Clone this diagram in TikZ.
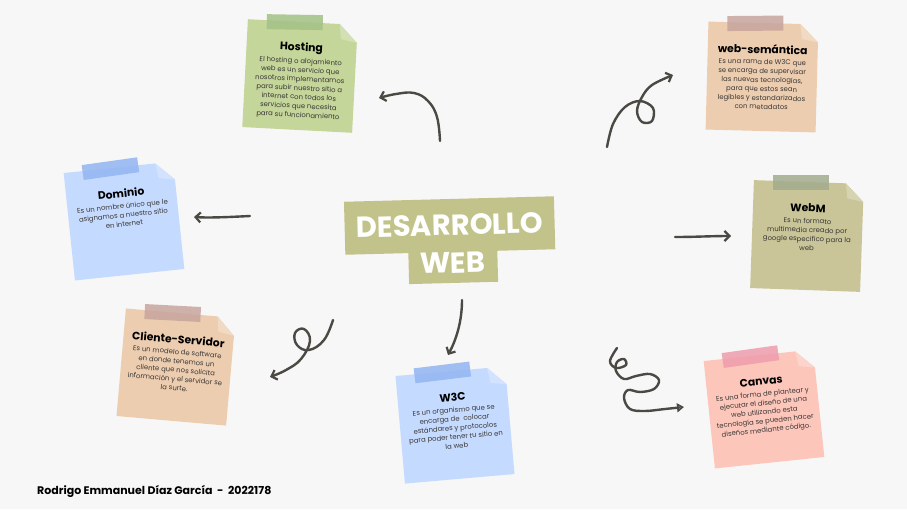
\documentclass[tikz,border=0pt]{standalone}
\usepackage{fontspec}
\setmainfont{Poppins}
\usetikzlibrary{arrows.meta}
\definecolor{bg}{HTML}{F7F7F7}
\definecolor{ink}{HTML}{4A4944}
\definecolor{txt}{HTML}{3A3835}
\definecolor{hostfill}{HTML}{C5D69B}
\definecolor{hosttape}{HTML}{A3C186}
\definecolor{peachfill}{HTML}{EDCDB0}
\definecolor{peachtape}{HTML}{C7A59E}
\definecolor{bluefill}{HTML}{C5DAFF}
\definecolor{bluetape}{HTML}{92B5F2}
\definecolor{olivefill}{HTML}{C9C599}
\definecolor{olivetape}{HTML}{A2AC8E}
\definecolor{pinkfill}{HTML}{FDC6BA}
\definecolor{pinktape}{HTML}{EE9DAC}
\definecolor{centerfill}{HTML}{C2C38A}
\newcommand\notecolors[2]{\def\nfill{#1}\def\ntape{#2}}
% #1 name, #2 centre, #3 angle, #4 title, #5 body
\newcommand\stickynote[5]{%
\begin{scope}[shift={#2},rotate=#3]
  \fill[\nfill] (-55,-54) -- (37,-54) -- (55,-36) -- (55,54) -- (-55,54) -- cycle;
  \fill[\nfill!75!white] (37,-54) -- (55,-36) -- (39,-39) -- cycle;
  \fill[\ntape,opacity=.85,rotate around={2:(-8,-53)}] (-36,-61) rectangle (20,-46);
  \node[notetitle] (#1-title) at (0,-28) {#4};
  \node[notebody] (#1) at (0,-18) {#5};
\end{scope}}
\tikzset{
  notetitle/.style={transform shape,font=\bfseries\fontsize{10.8}{12}\selectfont,text=black,inner sep=0pt},
  notebody/.style={transform shape,anchor=north,align=center,font=\fontsize{6.9}{9}\selectfont,text=txt,inner sep=0pt},
  curly/.style={ink,line width=2.4pt,line cap=round,line join=round},
  barb/.style={-{Straight Barb[length=5pt,width=10pt,line width=2.2pt]}},
}
\begin{document}
\begin{tikzpicture}[x=1pt,y=-1pt]
\fill[bg] (0,0) rectangle (907,509);
\useasboundingbox (0,0) rectangle (907,509);

% notes
\notecolors{hostfill}{hosttape}
\stickynote{hosting}{(300,76)}{-3}{Hosting}{El hosting o alojamiento\\web es un servicio que\\nosotros implementamos\\para subir nuestro sitio a\\internet con todos los\\servicios que necesita\\para su funcionamiento}
\notecolors{peachfill}{peachtape}
\stickynote{websem}{(762,77)}{-1.5}{web-semántica}{Es una rama de W3C que\\se encarga de supervisar\\las nuevas tecnologías,\\para que estos sean\\legibles y estandarizados\\con metadatos}
\notecolors{bluefill}{bluetape}
\stickynote{dominio}{(124,221)}{6}{Dominio}{Es un nombre único que le\\asignamos a nuestro sitio\\en internet}
\notecolors{olivefill}{olivetape}
\stickynote{webm}{(807,236)}{-2}{WebM}{Es un formato\\multimedia creado por\\google especifico para la\\web}
\notecolors{peachfill}{peachtape}
\stickynote{cliente}{(176,367)}{-5}{Cliente-Servidor}{Es un modelo de software\\en donde tenemos un\\cliente que nos solicita\\información y el servidor se\\la surte.}
\notecolors{bluefill}{bluetape}
\stickynote{wtc}{(455,425)}{5}{W3C}{Es un organismo que se\\encarga de\ \ colocar\\estándares y protocolos\\para poder tener tu sitio en\\la web}
\notecolors{pinkfill}{pinktape}
\stickynote{canvas}{(764,409)}{6}{Canvas}{Es una forma de plantear y\\ejecutar el diseño de una\\web utilizando esta\\tecnología se pueden hacer\\diseños mediante código.}

% centre title
\begin{scope}[rotate around={1.5:(450,240)}]
  \fill[centerfill] (345,199) rectangle (555,252);
  \fill[centerfill] (408,251) rectangle (497,283);
  \node[text=white,font=\bfseries\fontsize{29}{32}\selectfont,inner sep=0pt,transform shape] (title1) at (450,225) {DESARROLLO};
  \node[text=white,font=\bfseries\fontsize{29}{32}\selectfont,inner sep=0pt,transform shape] (title2) at (452,263) {WEB};
\end{scope}

% author
\node[anchor=west,font=\bfseries\fontsize{11}{12}\selectfont,inner sep=0pt] (author) at (37,491) {Rodrigo Emmanuel Díaz García\ \ -\ \ 2022178};

% arrow end points
\coordinate (a1s) at (440,141); \coordinate (a1e) at (379,98);
\coordinate (a2s) at (607,147); \coordinate (a2e) at (673,75);
\coordinate (a3s) at (250,216); \coordinate (a3e) at (194,217);
\coordinate (a4s) at (675,237); \coordinate (a4e) at (731,236);
\coordinate (a5s) at (333,320); \coordinate (a5e) at (270,377);
\coordinate (a6s) at (462,300); \coordinate (a6e) at (448,355);
\coordinate (a7s) at (617,348); \coordinate (a7e) at (684,407);

\draw[curly,barb] plot[smooth,tension=0.7] coordinates {(a1s) (437,117) (428,101) (414,93) (396,94) (a1e)};
\draw[curly,barb] plot[smooth,tension=0.6] coordinates {(a2s) (613,124) (625,107) (640,101) (653,108) (652,121) (642,122) (637,111) (642,97) (652,85) (a2e)};
\draw[curly,barb] (a3s) .. controls (230,217) and (210,218) .. (a3e);
\draw[curly,barb] (a4s) .. controls (695,237) and (712,236) .. (a4e);
\draw[curly,barb] plot[smooth,tension=0.7] coordinates {(a5s) (324,340) (309,350) (297,345) (295,333) (304,329) (310,341) (301,359) (286,370) (a5e)};
\draw[curly,barb] (a6s) .. controls (462,322) and (456,340) .. (a6e);
\draw[curly,-{Triangle[open,length=7pt,width=9pt,line width=2pt]}] plot[smooth,tension=0.6] coordinates {(a7s) (610,361) (616,368) (626,365) (624,359) (617,362) (616,371) (624,379) (636,376) (650,374) (659,380) (654,389) (640,392) (628,390) (624,398) (630,409) (645,411) (665,409) (a7e)};
\end{tikzpicture}
\end{document}
